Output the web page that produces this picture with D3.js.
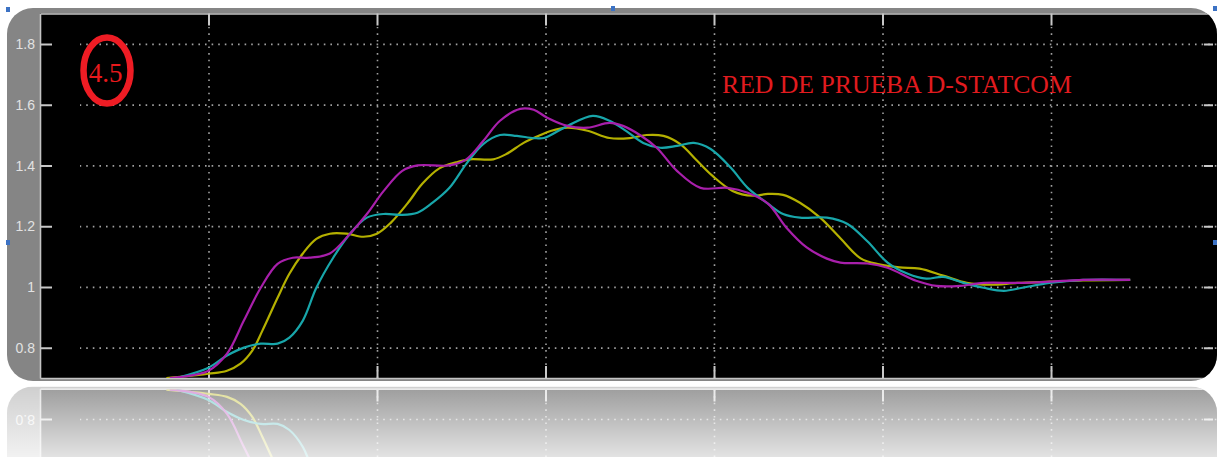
<!DOCTYPE html>
<html>
<head>
<meta charset="utf-8">
<script src="https://cdn.jsdelivr.net/npm/d3@7"></script>
<style>
  html, body { margin: 0; padding: 0; background: #ffffff; }
  svg { display: block; }
</style>
</head>
<body>
<svg id="scope" width="1217" height="457"></svg>
<script>
// Voltage response traces of the D-STATCOM test network (p.u.)
const yTicks = [0.8, 1.0, 1.2, 1.4, 1.6, 1.8];
const yTickLabels = ["0.8", "1", "1.2", "1.4", "1.6", "1.8"];
const xGrid = [1, 2, 3, 4, 5, 6];
const title = "RED DE PRUEBA D-STATCOM";
const caseLabel = "4.5";

const phaseA = [ // magenta
  [0.77,0.700],[1.00,0.724],[1.11,0.780],[1.21,0.889],[1.31,0.997],[1.41,1.076],[1.50,1.096],
  [1.60,1.096],[1.72,1.110],[1.84,1.175],[1.94,1.240],[2.04,1.316],[2.15,1.382],[2.24,1.400],
  [2.43,1.400],[2.53,1.420],[2.63,1.480],[2.73,1.547],[2.85,1.586],[2.93,1.583],[3.01,1.557],
  [3.13,1.530],[3.25,1.524],[3.38,1.540],[3.46,1.530],[3.56,1.500],[3.66,1.458],[3.78,1.382],
  [3.92,1.326],[4.08,1.326],[4.20,1.310],[4.32,1.274],[4.43,1.195],[4.55,1.130],[4.67,1.093],
  [4.75,1.080],[4.91,1.077],[5.03,1.063],[5.20,1.020],[5.32,1.003],[5.46,1.003],[5.60,1.013],
  [5.80,1.013],[5.99,1.017],[6.19,1.023],[6.47,1.023]
];
const phaseB = [ // yellow
  [0.75,0.700],[1.00,0.714],[1.11,0.724],[1.19,0.747],[1.26,0.790],[1.32,0.856],[1.41,0.964],
  [1.48,1.043],[1.56,1.110],[1.64,1.158],[1.72,1.175],[1.82,1.175],[1.92,1.165],[2.00,1.175],
  [2.08,1.210],[2.18,1.274],[2.27,1.340],[2.37,1.390],[2.47,1.410],[2.55,1.420],[2.69,1.420],
  [2.77,1.438],[2.87,1.474],[2.97,1.500],[3.03,1.513],[3.13,1.524],[3.25,1.514],[3.38,1.490],
  [3.50,1.490],[3.60,1.500],[3.70,1.497],[3.80,1.470],[3.90,1.415],[3.99,1.366],[4.11,1.316],
  [4.23,1.300],[4.32,1.306],[4.41,1.303],[4.51,1.277],[4.63,1.228],[4.75,1.160],[4.87,1.094],
  [4.98,1.074],[5.10,1.064],[5.22,1.060],[5.36,1.037],[5.50,1.013],[5.64,1.007],[5.80,1.013],
  [5.99,1.017],[6.19,1.021],[6.47,1.023]
];
const phaseC = [ // cyan
  [0.81,0.700],[1.00,0.734],[1.11,0.774],[1.21,0.800],[1.31,0.813],[1.41,0.813],[1.48,0.833],
  [1.56,0.889],[1.64,0.997],[1.74,1.096],[1.84,1.175],[1.94,1.228],[2.04,1.240],[2.14,1.237],
  [2.24,1.244],[2.33,1.277],[2.43,1.326],[2.53,1.405],[2.63,1.470],[2.73,1.500],[2.83,1.497],
  [2.93,1.490],[2.99,1.490],[3.13,1.530],[3.28,1.563],[3.38,1.547],[3.48,1.513],[3.58,1.474],
  [3.68,1.458],[3.78,1.464],[3.88,1.474],[3.98,1.454],[4.10,1.392],[4.20,1.326],[4.32,1.274],
  [4.41,1.240],[4.51,1.228],[4.67,1.228],[4.79,1.208],[4.91,1.150],[5.03,1.080],[5.15,1.043],
  [5.26,1.027],[5.36,1.033],[5.48,1.013],[5.60,0.997],[5.72,0.987],[5.83,0.997],[5.99,1.013],
  [6.19,1.023],[6.47,1.023]
];
const seriesColors = ["#b4b000", "#18a6aa", "#a81fab"];

const svg = d3.select("#scope");
const defs = svg.append("defs");

// window geometry
const frame = {x: 7, y: 8, w: 1210, h: 373, r: 26};
const plot = {left: 40, top: 13.5, right: 1217, bottom: 378};

const x = d3.scaleLinear().domain([0, 7]).range([plot.left, 1219.5]);
const y = d3.scaleLinear().domain([0.7, 1.9]).range([plot.bottom, plot.top]);

defs.append("clipPath").attr("id", "frameClip")
  .append("rect").attr("x", frame.x).attr("y", frame.y)
  .attr("width", frame.w).attr("height", frame.h).attr("rx", frame.r);

defs.append("clipPath").attr("id", "plotClip")
  .append("rect").attr("x", plot.left).attr("y", plot.top)
  .attr("width", plot.right - plot.left).attr("height", plot.bottom - plot.top);

const grad = defs.append("linearGradient").attr("id", "fade")
  .attr("x1", 0).attr("y1", 0).attr("x2", 0).attr("y2", 1);
grad.append("stop").attr("offset", "0%").attr("stop-color", "#fff").attr("stop-opacity", 0.6);
grad.append("stop").attr("offset", "100%").attr("stop-color", "#fff").attr("stop-opacity", 0.89);

// scope window drawn once, reused for its reflection
const chart = defs.append("g").attr("id", "chart");
const inner = chart.append("g").attr("clip-path", "url(#frameClip)");

inner.append("rect").attr("x", frame.x).attr("y", frame.y)
  .attr("width", frame.w).attr("height", frame.h).attr("fill", "#858585");
inner.append("rect").attr("x", plot.left).attr("y", plot.top)
  .attr("width", plot.right - plot.left + 6).attr("height", plot.bottom - plot.top)
  .attr("fill", "#000");

// dotted grid
const gridStyle = g => g.selectAll("line")
  .attr("stroke", "#a0a0a0").attr("stroke-width", 1.6).attr("stroke-dasharray", "1.6,5");

inner.append("g").attr("clip-path", "url(#plotClip)")
  .attr("transform", `translate(${plot.left},0)`)
  .call(d3.axisRight(y).tickValues(yTicks).tickSize(plot.right - plot.left).tickFormat(""))
  .call(g => g.select(".domain").remove())
  .call(gridStyle);

inner.append("g").attr("clip-path", "url(#plotClip)")
  .attr("transform", `translate(0,${plot.top})`)
  .call(d3.axisBottom(x).tickValues(xGrid).tickSize(plot.bottom - plot.top).tickFormat(""))
  .call(g => g.select(".domain").remove())
  .call(gridStyle);

// axis border and inward tick marks
const tickStyle = g => {
  g.select(".domain").attr("stroke", "#c4c4c4").attr("stroke-width", 1.6);
  g.selectAll(".tick line").attr("stroke", "#c8c8c8").attr("stroke-width", 2);
};

inner.append("g").attr("transform", `translate(${plot.left},0)`)
  .call(d3.axisLeft(y).tickValues(yTicks).tickSizeInner(-12).tickSizeOuter(0).tickPadding(5)
    .tickFormat((d, i) => yTickLabels[i]))
  .call(tickStyle)
  .call(g => g.selectAll("text")
    .attr("fill", "#e2e2e2").attr("font-family", "Liberation Sans, Arial, sans-serif")
    .attr("font-size", 14).attr("dy", "0.34em"));

inner.append("g").attr("transform", `translate(1213,0)`)
  .call(d3.axisRight(y).tickValues(yTicks).tickSizeInner(-9).tickSizeOuter(0).tickFormat(""))
  .call(g => g.select(".domain").remove())
  .call(tickStyle);

inner.append("g").attr("transform", `translate(0,${plot.bottom})`)
  .call(d3.axisBottom(x).tickValues(xGrid).tickSizeInner(-12).tickSizeOuter(0).tickFormat(""))
  .call(tickStyle);

inner.append("g").attr("transform", `translate(0,${plot.top})`)
  .call(d3.axisTop(x).tickValues(xGrid).tickSizeInner(-12).tickSizeOuter(0).tickFormat(""))
  .call(tickStyle);

// traces
const line = d3.line()
  .x(d => x(d[0])).y(d => y(d[1]))
  .curve(d3.curveCatmullRom.alpha(0.5));

inner.append("g").attr("clip-path", "url(#plotClip)")
  .selectAll("path")
  .data([phaseB, phaseC, phaseA])
  .join("path")
  .attr("d", line)
  .attr("fill", "none")
  .attr("stroke", (d, i) => seriesColors[i])
  .attr("stroke-width", 2.2)
  .attr("stroke-linejoin", "round");

// case marker and title
inner.append("ellipse")
  .attr("cx", 107).attr("cy", 70.5).attr("rx", 23.5).attr("ry", 33)
  .attr("fill", "none").attr("stroke", "#ee1c24").attr("stroke-width", 6.5);
inner.append("text")
  .attr("x", 105.5).attr("y", 81.5).attr("text-anchor", "middle")
  .attr("font-family", "Liberation Serif, Times New Roman, serif")
  .attr("font-size", 27).attr("fill", "#e8191c")
  .text(caseLabel);

inner.append("text")
  .attr("x", 722).attr("y", 93)
  .attr("font-family", "Liberation Serif, Times New Roman, serif")
  .attr("font-size", 25.7).attr("fill", "#e11b1f")
  .text(title);

// window itself
svg.append("use").attr("href", "#chart");

// mirrored reflection under the window
const mirrorY = 383.8;
svg.append("defs").append("clipPath").attr("id", "reflClip")
  .append("rect").attr("x", 0).attr("y", mirrorY).attr("width", 1217).attr("height", 457 - mirrorY);
const refl = svg.append("g").attr("clip-path", "url(#reflClip)");
refl.append("use").attr("href", "#chart")
  .attr("transform", `translate(0,${2 * mirrorY}) scale(1,-1)`);
refl.append("rect").attr("x", 0).attr("y", mirrorY)
  .attr("width", 1217).attr("height", 457 - mirrorY).attr("fill", "url(#fade)");

// selection handles
const handles = [[6, 7], [611, 6], [1213, 6], [6, 240], [1213, 240]];
svg.append("g").selectAll("rect").data(handles).join("rect")
  .attr("x", d => d[0]).attr("y", d => d[1]).attr("width", 4).attr("height", 5)
  .attr("fill", "#3c72c4");
</script>
</body>
</html>
